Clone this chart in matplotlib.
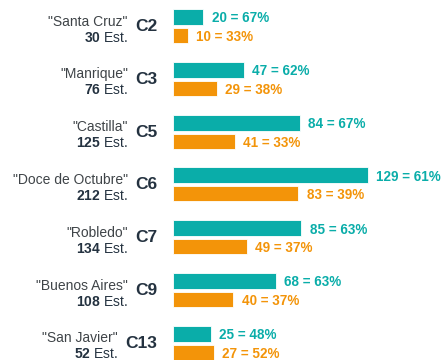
import matplotlib.pyplot as plt

plt.rcParams['font.family'] = 'Liberation Sans'
plt.rcParams['mathtext.fontset'] = 'custom'
plt.rcParams['mathtext.rm'] = 'Liberation Sans'
plt.rcParams['mathtext.bf'] = 'Liberation Sans:bold'

# comunas, nombres y totales de estudiantes
codes = ["C2", "C3", "C5", "C6", "C7", "C9", "C13"]
names = ["Santa Cruz", "Manrique", "Castilla", "Doce de Octubre",
         "Robledo", "Buenos Aires", "San Javier"]
totals = [30, 76, 125, 212, 134, 108, 52]

# conteos y porcentajes por grupo
teal_n = [20, 47, 84, 129, 85, 68, 25]
teal_pct = [67, 62, 67, 61, 63, 63, 48]
orange_n = [10, 29, 41, 83, 49, 40, 27]
orange_pct = [33, 38, 33, 39, 37, 37, 52]

TEAL = "#0aada9"
ORANGE = "#f39409"
NAVY = "#243240"
GRAY = "#3f4448"

fig = plt.figure(figsize=(4.47, 3.6), dpi=100)
ax = fig.add_axes([0, 0, 1, 1])

# escala: 1.51 px por estudiante, barras arrancan en x=173 px
px_per_unit = 1.51
x0 = -173 / px_per_unit
ax.set_xlim(x0, x0 + 447 / px_per_unit)
ax.set_ylim(360, 0)
ax.axis("off")

renderer = fig.canvas.get_renderer()
gap_pt = -7 * 72 / 100  # 7 px entre nombre y código

step = 52.8
bar_h = 16
for i, code in enumerate(codes):
    base = step * i
    ax.barh(base + 17, teal_n[i], height=bar_h, color=TEAL,
            edgecolor="white", linewidth=0.6)
    ax.barh(base + 35.5, orange_n[i], height=bar_h - 1, color=ORANGE,
            edgecolor="white", linewidth=0.6)

    ax.annotate(f"{teal_n[i]} = {teal_pct[i]}%", (teal_n[i], base + 18.5),
                xytext=(6, 0), textcoords="offset points", va="center",
                ha="left", color=TEAL, fontsize=9.75, fontweight="bold")
    ax.annotate(f"{orange_n[i]} = {orange_pct[i]}%", (orange_n[i], base + 37),
                xytext=(6, 0), textcoords="offset points", va="center",
                ha="left", color=ORANGE, fontsize=9.75, fontweight="bold")

    c = ax.text((157 - 173) / px_per_unit, base + 26.5, code, ha="right",
                va="center", fontsize=12.5, fontweight="bold", color=NAVY)
    bb = c.get_window_extent(renderer).transformed(ax.transData.inverted())
    xleft = min(bb.x0, bb.x1)

    ax.annotate(f'"{names[i]}"', (xleft, base + 21.5), xytext=(gap_pt, 0),
                textcoords="offset points", ha="right", va="center",
                fontsize=10, color=GRAY)
    ax.annotate(rf"$\mathbf{{{totals[i]}}}$ Est.", (xleft, base + 37.5),
                xytext=(gap_pt, 0), textcoords="offset points", ha="right",
                va="center", fontsize=10, color=NAVY)

fig.savefig("out.png", dpi=100)
